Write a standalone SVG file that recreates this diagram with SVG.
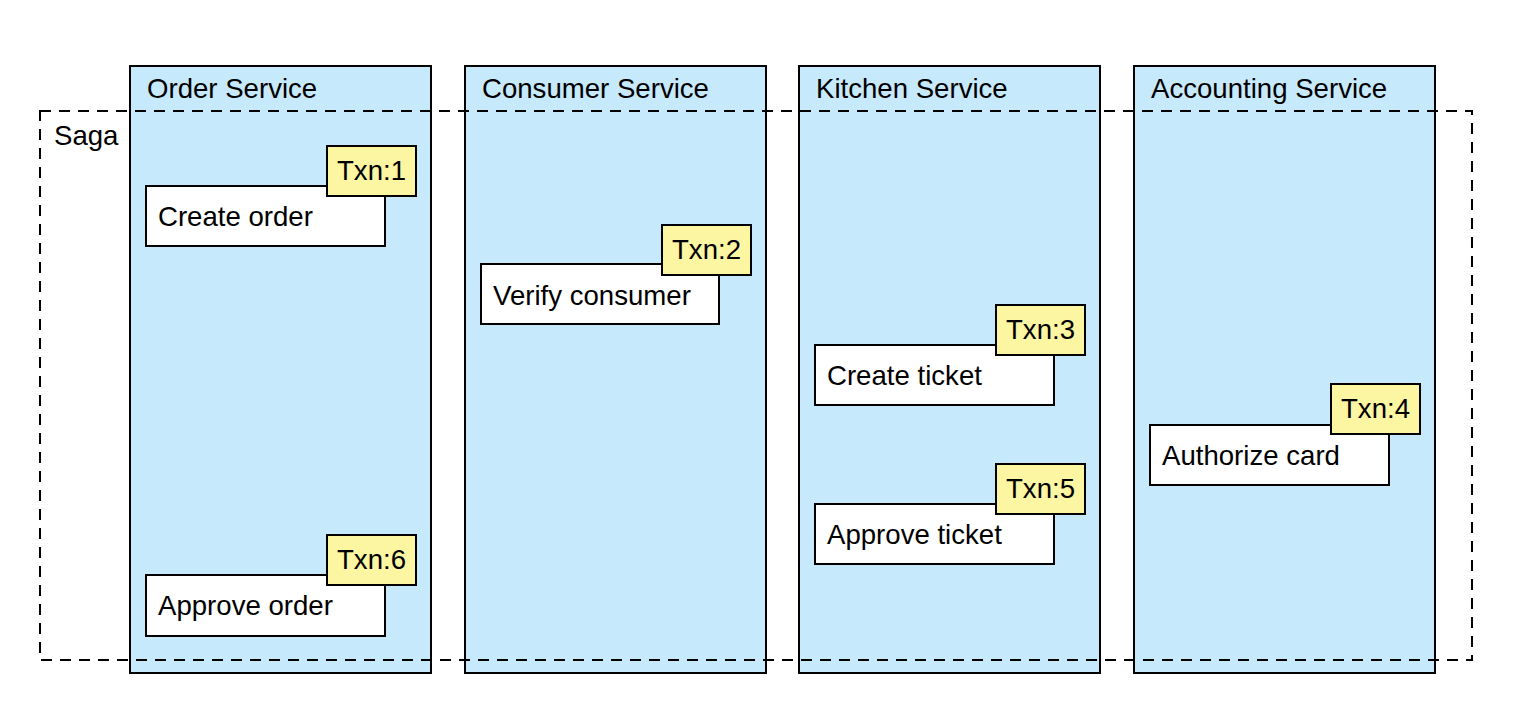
<svg xmlns="http://www.w3.org/2000/svg" width="1524" height="712" viewBox="0 0 1524 712">
<style>
text{font-family:"Liberation Sans",Arial,sans-serif;font-size:27.6px;fill:#000}
.lane{fill:#C6E9FC;stroke:#000;stroke-width:2}
.node{fill:#fff;stroke:#000;stroke-width:2}
.txn{fill:#FCF6A2;stroke:#000;stroke-width:2}
.saga{fill:none;stroke:#000;stroke-width:2;stroke-dasharray:11 8}
</style>
<rect width="1524" height="712" fill="#fff"/>
<g id="lane-order"><rect class="lane" x="130" y="66" width="301" height="607"/><text x="147" y="98">Order Service</text></g>
<g id="lane-consumer"><rect class="lane" x="465" y="66" width="301" height="607"/><text x="482" y="98">Consumer Service</text></g>
<g id="lane-kitchen"><rect class="lane" x="799" y="66" width="301" height="607"/><text x="816" y="98">Kitchen Service</text></g>
<g id="lane-accounting"><rect class="lane" x="1134" y="66" width="301" height="607"/><text x="1151" y="98">Accounting Service</text></g>
<g id="saga"><rect class="saga" x="40" y="111" width="1432" height="549"/><text x="54" y="145">Saga</text></g>
<g id="create-order"><rect class="node" x="146" y="186" width="239" height="60"/><text x="158" y="226">Create order</text></g>
<g id="txn1"><rect class="txn" x="327" y="146" width="89" height="50"/><text x="337" y="180">Txn:1</text></g>
<g id="verify-consumer"><rect class="node" x="481" y="264" width="238" height="60"/><text x="493" y="305">Verify consumer</text></g>
<g id="txn2"><rect class="txn" x="662" y="225" width="89" height="50"/><text x="672" y="259">Txn:2</text></g>
<g id="create-ticket"><rect class="node" x="815" y="345" width="239" height="60"/><text x="827" y="385">Create ticket</text></g>
<g id="txn3"><rect class="txn" x="996" y="305" width="89" height="50"/><text x="1006" y="339">Txn:3</text></g>
<g id="authorize-card"><rect class="node" x="1150" y="425" width="239" height="60"/><text x="1162" y="465">Authorize card</text></g>
<g id="txn4"><rect class="txn" x="1331" y="384" width="89" height="50"/><text x="1341" y="418">Txn:4</text></g>
<g id="approve-ticket"><rect class="node" x="815" y="504" width="239" height="60"/><text x="827" y="544">Approve ticket</text></g>
<g id="txn5"><rect class="txn" x="996" y="464" width="89" height="50"/><text x="1006" y="498">Txn:5</text></g>
<g id="approve-order"><rect class="node" x="146" y="575" width="239" height="61"/><text x="158" y="615">Approve order</text></g>
<g id="txn6"><rect class="txn" x="327" y="535" width="89" height="50"/><text x="337" y="569">Txn:6</text></g>
<g id="connectors"></g>
</svg>
